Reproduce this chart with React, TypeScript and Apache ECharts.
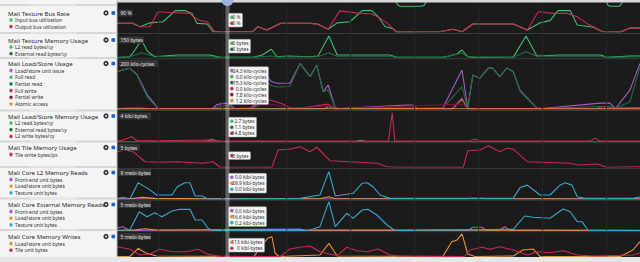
import React, { useEffect, useRef } from "react";
import * as echarts from "echarts";

// ---------- colours ----------
const GREEN = "#3dbd6e";
const DKGREEN = "#1f6e40";
const CRIMSON = "#c9284f";
const DKRED = "#7a1533";
const PURPLE = "#a35cc4";
const ORANGE = "#e6913b";
const TEAL = "#37a6cb";

// ---------- time axis (ms) ----------
const T_MIN = 3.75;
const T_MAX = 85.31;
const gridTimes = [10, 20, 30, 40, 50, 60, 70, 80];

// ---------- data: [time ms, value] ----------
// panel above the first one: only the parts where its line dips into view
const prevPanelLine: any[] = [[47.0,10],[47.5,2],[47.8,0.5],[51.2,0.5],[51.6,2],[52.0,10],[52.1,null],[79.9,10],[80.3,2],[80.6,0.5],[82,0.5],[82.3,2],[82.7,10]];

const busInput = [[3.6,31],[6.1,31],[7.2,19],[8.75,33],[10.8,37],[12.7,77],[14.2,77],[15.3,67],[16.1,31],[17.7,29],[18.6,1],[24.8,1],[25.6,19],[27,7],[29.1,31],[32.2,31],[33.75,31],[34.9,29],[36.6,10],[38,33],[40,37],[41.9,77],[43.4,77],[44.4,55],[45.5,19],[46.6,13],[47.3,0],[54,1],[56.1,10],[57.5,1],[59.2,29],[65.5,29],[67.7,7],[69.7,33],[71.25,41],[72.5,77],[74.4,77],[75.5,25],[78,17],[79.5,1],[82.2,0],[83.75,14],[85.3,14]];
const busOutput = [[3.6,31],[6.1,31],[7.2,19],[8.75,19],[10,73],[11.9,70],[15,67],[15.5,55],[16.6,41],[17.7,37],[18.9,1],[24.8,1],[25.6,19],[27,7],[29.1,31],[32.2,31],[33.75,31],[34.9,29],[36.6,10],[38.4,76],[41.6,67],[43.4,65],[44.7,50],[45.8,32],[47.3,0],[54,1],[56.1,10],[57.5,1],[59.2,29],[65.5,29],[67.7,7],[69.4,73],[71.7,67],[73.9,67],[75.5,55],[77,31],[79.5,1],[82.2,0],[83.75,14],[85.3,14]];

const texL2Read = [[3.6,0],[5.6,5],[6.4,50],[7.4,117],[8.4,39],[9.5,5],[13,17],[18.1,17],[19.7,1],[24.8,1],[26.3,17],[27.7,55],[28.6,5],[30.2,10],[33.6,5],[35,10],[36.7,143],[38,17],[41.6,17],[46.25,17],[47.3,1],[54.5,1],[55.5,10],[56.7,23],[57.5,50],[58.4,5],[59.5,1],[65.5,1],[67.5,143],[69.2,10],[72.8,17],[79.1,17],[80.2,1],[83.75,10],[85.3,10]];
const texExtRead = [[3.6,0],[5.6,5],[7.4,32],[9.2,10],[13,5],[18.1,5],[19.7,1],[24.8,1],[27.7,10],[28.6,3],[35,5],[36.7,32],[38,8],[41.6,8],[46.25,8],[47.3,1],[54.5,1],[57.5,30],[58.4,3],[65.5,1],[67.5,39],[69.2,8],[79.1,8],[80.2,1],[85.3,5]];

const lsIssue = [[3.6,152],[4.5,159],[5.6,166],[6.7,142],[7.7,90],[8.3,58],[9.5,20],[10,2],[18.5,2],[19.2,18],[20.5,24],[21.2,18],[22,2],[24.8,4],[25.5,24],[27,132],[27.8,111],[28.6,105],[30.6,105],[32.2,186],[33.75,132],[34.8,180],[35.8,71],[36.6,98],[37.7,4],[38.5,2],[48.6,16],[49.8,16],[50.5,2],[54.5,4],[57.5,159],[58.4,4],[59.2,139],[60.3,126],[61.6,167],[62.3,167],[63.4,132],[64.5,167],[65.5,152],[66.6,75],[69.2,4],[70,2],[79.1,24],[80.6,24],[81.5,2],[83.75,78],[85.3,186]];
const lsFullRead = [[3.6,0],[36,0],[36.6,10],[37.7,0],[56,0],[57.5,40],[58.4,0],[85.3,0]];
const lsPartialRead = [[3.6,152],[4.5,159],[5.6,166],[6.7,139],[7.7,84],[8.3,50],[9.5,16],[10,2],[18.5,2],[19.5,10],[20.5,15],[21.2,10],[22,2],[24.8,2],[25.6,15],[27,110],[27.8,95],[28.6,90],[30.6,92],[32.2,186],[33.75,132],[34.8,180],[35.8,71],[36.6,78],[37.7,4],[38.5,2],[48.6,8],[49.8,8],[50.5,2],[54.5,4],[57.5,91],[58.4,4],[59.2,139],[60.3,126],[61.6,167],[62.3,167],[63.4,132],[64.5,167],[65.5,152],[66.6,71],[69.2,4],[70,2],[79.1,10],[80.6,10],[81.5,2],[83.75,30],[85.3,170]];
const lsFullWrite = [[3.6,2],[5,3],[5.6,6],[7.2,5],[8,2],[24.4,2],[25.6,33],[27.5,37],[29.5,20],[30.6,4],[32.2,4],[36.6,20],[37.7,2],[56,2],[57.5,45],[58.4,2],[78.5,2],[79.5,10],[80.5,4],[85.3,6]];
const lsPartialWrite = [[3.6,2],[5.6,6],[7.2,8],[8.3,2],[19,2],[20.5,8],[21.5,2],[24.8,2],[26,15],[28,18],[29.5,8],[30.6,2],[36.6,12],[37.7,1],[57.5,20],[58.4,1],[85.3,2]];
const lsAtomic = [[3.6,1],[20,1],[20.6,1.2],[21.5,1],[85.3,1]];

const lsmL2Read = [[3.6,0],[17.5,0],[18.4,0.3],[19.2,0],[41,0],[41.6,0.15],[42.5,0],[85.3,0]];
const lsmExtRead = [[3.6,0],[85.3,0]];
const lsmL2Write = [[3.6,0.02],[4.5,0.2],[5.9,0.65],[6.7,0.1],[10,0.1],[18.6,0.2],[19.7,0.05],[46,0.05],[46.6,3.9],[47,0.05],[58.75,0.05],[59.5,0.34],[60.3,0.05],[77.5,0.05],[78.3,0.45],[79.1,0.05],[85.3,0.05]];

const tileWrite = [[3.6,3.35],[4.9,3.7],[6.1,3.35],[7.97,1.2],[10.3,1.07],[13,1.2],[17,0.86],[18.6,1.2],[19.7,0],[27.8,0],[28.75,3.7],[30.6,3.9],[32.2,4.4],[33.75,3.35],[34.8,4.3],[36.9,1.4],[44.2,0.86],[45.8,0.13],[47.8,0],[57.7,0],[58.4,3.56],[60.3,3.7],[61.6,4.6],[63.4,3.35],[64.5,4.1],[65.5,3.9],[67.7,1.2],[74.4,0.86],[75.5,0.5],[78.6,0.7],[80.2,0],[85.3,0.13]];

const l2FrontEnd = [[3.6,0.1],[4.5,0.55],[5.6,0.05],[58,0],[59.1,0.25],[60.6,0.25],[61.3,0],[85.3,0]];
const l2LoadStore = [[3.6,0.05],[5.6,0.1],[7.5,0.5],[9.5,0.2],[18,0.05],[35.3,0.1],[36.7,0.7],[37.7,0.1],[85.3,0.05]];
const l2Texture = [[3.6,0],[5.6,0],[6.9,5.05],[8.4,3.3],[9.8,1.24],[12.2,1.24],[13,3.8],[14.2,5.05],[15,5.05],[15.8,0.93],[16.9,0.93],[17.8,0],[32.2,0.2],[35.3,1.24],[36.7,8.5],[37.7,0.93],[40.5,1.77],[41.9,4.9],[42.7,5.05],[43.6,3.8],[44.7,1.24],[46.25,0.2],[65.5,0.2],[66.6,3.6],[67.7,4.3],[69.7,1.24],[71.25,1.24],[72.8,4.3],[73.6,5.05],[74.7,4.3],[75.5,0.7],[76.7,0.2],[84.2,0.2],[85.3,0.6]];

const extFrontEnd = [[3.6,0.43],[4.5,0.66],[5.6,0],[32.2,0.26],[33,0],[58.5,0],[59.1,0.55],[60.6,0.55],[61.4,0],[63.4,0.1],[64.2,0.66],[65,0],[85.3,0]];
const extLoadStore = [[3.6,0.05],[6.5,0.1],[8,0.3],[9.5,0.1],[85.3,0.05]];
const extTexture = [[3.6,0],[5.6,0.09],[7.05,3.24],[8.3,2.38],[9.5,3.07],[10.6,2.38],[12.2,3.36],[13.4,3.65],[15,3.65],[15.8,1.81],[16.9,1.81],[17.8,0.38],[18.6,0],[33.5,0],[35.3,0.66],[36.7,4.97],[37.7,0.66],[39.5,2.97],[40.5,2.1],[41.9,3.53],[42.8,3.65],[44.2,2.67],[45.8,0.95],[47,0],[65.5,0.2],[67.3,2.5],[68.6,2.28],[71.25,2.1],[73.3,3.7],[74.4,3.24],[75.5,1.52],[76.25,1.52],[77.2,0],[85.3,0]];

const wrLoadStore = [[3.6,0],[5.6,0],[6.9,1.74],[8,0.8],[9.8,0.1],[25,0],[26.25,2.45],[27.2,3.94],[27.8,4.2],[28.3,0.74],[28.9,0],[35.3,0.32],[36.7,2.81],[38,0.1],[54.5,0],[55.9,3.15],[56.7,3.5],[57.5,4.8],[58.4,0.53],[59.5,0],[65.5,0.1],[67,1.38],[68.6,1.6],[69.7,0],[82.2,0],[84.2,1.38],[85.3,3.15]];
const wrTile = [[3.6,2.09],[5.6,1.53],[7.2,0.32],[8.75,0.53],[10.3,1.53],[12.2,1.02],[14.5,1.02],[16.25,1.53],[17.7,0.53],[19.7,0],[29.1,0],[30.6,1.6],[32.2,1.96],[33.75,2.23],[35.3,1.02],[36.7,0.53],[38,0.2],[39.5,1.96],[41.1,1.23],[42.7,1.02],[44.4,1.6],[46.25,0.32],[47.8,0.1],[57.9,0],[58.75,1.38],[60.6,1.96],[61.9,1.53],[63.4,2.09],[65.5,1.38],[67.7,0.32],[69.2,1.02],[71.25,0.81],[73.3,1.23],[75.5,0.32],[78,0.1],[84.2,0.32],[85.3,0.74]];

// ---------- panel texts ----------
const panelTitles = ["Mali Texture Bus Rate","Mali Texture Memory Usage","Mali Load/Store Usage","Mali Load/Store Memory Usage","Mali Tile Memory Usage","Mali Core L2 Memory Reads","Mali Core External Memory Reads","Mali Core Memory Writes"];
const scaleLabels = ["90 %","150 bytes","200 kilo-cycles","4 kibi-bytes","5 bytes","9 mebi-bytes","5 mebi-bytes","5 mebi-bytes"];
const scaleMax = [90,150,200,4,5,9,5,5];
const legendNames = [
  ["Input bus utilization","Output bus utilization"],
  ["L2 read bytes/cy","External read bytes/cy"],
  ["Load/store unit issue","Full read","Partial read","Full write","Partial write","Atomic access"],
  ["L2 read bytes/cy","External read bytes/cy","L2 write bytes/cy"],
  ["Tile write bytes/px"],
  ["Front-end unit bytes","Load/store unit bytes","Texture unit bytes"],
  ["Front-end unit bytes","Load/store unit bytes","Texture unit bytes"],
  ["Load/store unit bytes","Tile unit bytes"],
];
const legendColors = [
  [GREEN, CRIMSON],
  [GREEN, DKGREEN],
  [PURPLE, GREEN, DKGREEN, CRIMSON, DKRED, ORANGE],
  [GREEN, DKGREEN, CRIMSON],
  [CRIMSON],
  [PURPLE, ORANGE, TEAL],
  [PURPLE, ORANGE, TEAL],
  [ORANGE, CRIMSON],
];
const panelData = [
  [busInput, busOutput],
  [texL2Read, texExtRead],
  [lsIssue, lsFullRead, lsPartialRead, lsFullWrite, lsPartialWrite, lsAtomic],
  [lsmL2Read, lsmExtRead, lsmL2Write],
  [tileWrite],
  [l2FrontEnd, l2LoadStore, l2Texture],
  [extFrontEnd, extLoadStore, extTexture],
  [wrLoadStore, wrTile],
];
const tooltipValues = [
  ["0 %","0 %"],
  ["0 bytes","0 bytes"],
  ["24.3 kilo-cycles","0.0 kilo-cycles","15.3 kilo-cycles","0.0 kilo-cycles","7.8 kilo-cycles","1.2 kilo-cycles"],
  ["2.7 bytes","1.1 bytes","14.8 bytes"],
  ["0 bytes"],
  ["0.0 kibi-bytes","29.9 kibi-bytes","0.0 kibi-bytes"],
  ["0.0 kibi-bytes","16.6 kibi-bytes","0.2 kibi-bytes"],
  ["113 kibi-bytes","0 kibi-bytes"],
];

// ---------- layout (px) ----------
const LEFT_W = 117;
const gridTop = [7, 35, 60, 112, 144, 170, 201.5, 233];
const gridBase = [32, 57.5, 109, 141.5, 167.3, 199, 230.5, 256.5];
const leftSeps = [5, 33, 58, 110.5, 141.5, 167, 198.5, 230];
const titleY = [13, 40, 63.5, 116, 147.5, 172.5, 204.5, 236.5];
const tipTop = [13.3, 39.3, 66.7, 117.3, 151.7, 173.3, 206.7, 238.3];
const FONT = '"Noto Sans", "Open Sans", sans-serif';

function buildOption() {
  const grid: any[] = [];
  const xAxis: any[] = [];
  const yAxis: any[] = [];
  const series: any[] = [];

  grid.push({ left: LEFT_W + 1, right: 0, top: 0, height: 6.5, show: false });
  xAxis.push({ gridIndex: 0, type: "value", min: T_MIN, max: T_MAX, show: false });
  yAxis.push({ gridIndex: 0, type: "value", min: 0, max: 10, show: false });
  series.push({ type: "line", xAxisIndex: 0, yAxisIndex: 0, data: prevPanelLine, connectNulls: false, symbol: "none", silent: true, lineStyle: { color: GREEN, width: 1.1 }, z: 3 });

  panelData.forEach((lines, p) => {
    const gi = p + 1;
    grid.push({ left: LEFT_W + 1, right: 0, top: gridTop[p], height: gridBase[p] - gridTop[p], show: false });
    xAxis.push({ gridIndex: gi, type: "value", min: T_MIN, max: T_MAX, show: false });
    yAxis.push({ gridIndex: gi, type: "value", min: 0, max: scaleMax[p], show: false });
    series.push({
      type: "line", xAxisIndex: gi, yAxisIndex: gi, data: [], silent: true, z: 1,
      markLine: {
        silent: true, symbol: "none", label: { show: false },
        lineStyle: { color: "#272727", width: 1, type: "solid" },
        data: gridTimes.map((t) => ({ xAxis: t })),
      },
    });
    lines.forEach((d, k) => {
      series.push({
        type: "line", xAxisIndex: gi, yAxisIndex: gi, data: d, symbol: "none", silent: true,
        lineStyle: { color: legendColors[p][k], width: 1.1 }, z: 3,
      });
    });
  });

  const g: any[] = [];
  g.push({ type: "rect", shape: { x: LEFT_W, y: 0, width: 640, height: 2.5 }, style: { fill: "#d9d9d9" }, z: 50 });
  const rightSeps = [33.5, 58.7, 110.5, 142.7, 168.6, 200.2, 231.7];
  rightSeps.forEach((y) => g.push({ type: "line", shape: { x1: LEFT_W, y1: y, x2: 640, y2: y }, style: { stroke: "#3a3a3a", lineWidth: 1 }, z: 2 }));
  g.push({ type: "rect", shape: { x: 225.5, y: 0, width: 4, height: 257 }, style: { fill: "rgba(200,200,200,0.42)" }, z: 40 });
  g.push({ type: "circle", shape: { cx: 227.5, cy: 0, r: 6 }, style: { fill: "#9fb2e2" }, z: 51 });

  g.push({ type: "rect", shape: { x: 0, y: 0, width: LEFT_W, height: 262 }, style: { fill: "#f4f4f4" }, z: 60 });
  g.push({ type: "line", shape: { x1: LEFT_W, y1: 0, x2: LEFT_W, y2: 257 }, style: { stroke: "#bdbdbd", lineWidth: 1 }, z: 61 });
  leftSeps.forEach((y) => {
    g.push({ type: "rect", shape: { x: 0, y: y - 1, width: LEFT_W, height: 2 }, style: { fill: "#d6d6d6" }, z: 61 });
    g.push({ type: "rect", shape: { x: 30, y: y - 0.5, width: 47, height: 1 }, style: { fill: "#ececec" }, z: 62 });
  });
  g.push({ type: "rect", shape: { x: 0, y: 257, width: 640, height: 5 }, style: { fill: "#e6e6e6" }, z: 70 });

  panelTitles.forEach((t, p) => {
    const ty = titleY[p];
    g.push({ type: "text", z: 65, style: { text: t, x: 8, y: ty, fill: "#2a2a2a", fontSize: 6.1, fontFamily: FONT, textVerticalAlign: "middle" } });
    g.push({ type: "circle", z: 65, shape: { cx: 106, cy: ty, r: 2.6 }, style: { fill: "#333" } });
    g.push({ type: "circle", z: 66, shape: { cx: 106, cy: ty, r: 0.9 }, style: { fill: "#f4f4f4" } });
    g.push({ type: "rect", z: 65, shape: { x: 111.5, y: ty - 1.8, width: 3.6, height: 3.6 }, style: { fill: "#2563c4" } });
    legendNames[p].forEach((n, k) => {
      const ly = ty + 7 + k * 6.7;
      g.push({ type: "circle", z: 65, shape: { cx: 11, cy: ly, r: 1.9 }, style: { fill: legendColors[p][k], stroke: "#fff", lineWidth: 0.4 } });
      g.push({ type: "text", z: 65, style: { text: n, x: 15, y: ly, fill: "#333", fontSize: 5, fontFamily: FONT, textVerticalAlign: "middle" } });
    });
    const sl = scaleLabels[p];
    const sw = sl.length * 2.3 + 5;
    g.push({ type: "rect", z: 45, shape: { x: LEFT_W + 1.5, y: ty - 3.5, width: sw, height: 7, r: 1 }, style: { fill: "#343434" } });
    g.push({ type: "text", z: 46, style: { text: sl, x: LEFT_W + 3.5, y: ty, fill: "#e6e6e6", fontSize: 5, fontFamily: FONT, textVerticalAlign: "middle" } });
    const vals = tooltipValues[p];
    const maxLen = Math.max(...vals.map((v) => v.length));
    const bw = 8 + maxLen * 2.0;
    const bx = 228.5;
    const by = tipTop[p];
    g.push({ type: "rect", z: 47, shape: { x: bx, y: by, width: bw, height: vals.length * 6 + 1.8, r: 1 }, style: { fill: "#f5f5f5", stroke: "#9a9a9a", lineWidth: 0.5 } });
    vals.forEach((v, k) => {
      const ry = by + 3.9 + k * 6;
      g.push({ type: "circle", z: 48, shape: { cx: bx + 3.3, cy: ry, r: 1.8 }, style: { fill: legendColors[p][k], stroke: "#bbb", lineWidth: 0.4 } });
      g.push({ type: "text", z: 48, style: { text: v, x: bx + bw - 2, y: ry, fill: "#333", fontSize: 4.8, fontFamily: FONT, textAlign: "right", textVerticalAlign: "middle" } });
    });
  });

  return {
    animation: false,
    backgroundColor: "#1b1b1b",
    grid, xAxis, yAxis, series,
    graphic: { elements: g },
  };
}

export default function App() {
  const ref = useRef<HTMLDivElement>(null);
  useEffect(() => {
    const chart = echarts.init(ref.current!, null, { renderer: "svg", width: 640, height: 262 });
    chart.setOption(buildOption() as any);
    return () => chart.dispose();
  }, []);
  return <div ref={ref} style={{ position: "fixed", left: 0, top: 0, width: 640, height: 262 }} />;
}
